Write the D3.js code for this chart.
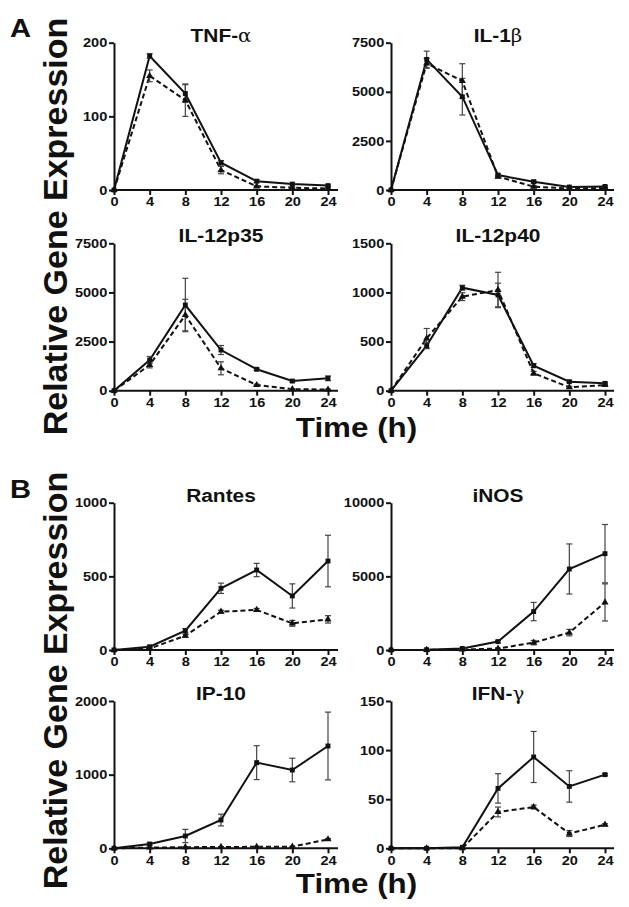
<!DOCTYPE html>
<html><head><meta charset="utf-8">
<script src="https://cdn.jsdelivr.net/npm/d3@7"></script>
<style>
body{margin:0;background:#fff}
svg{display:block}
text{font-family:"Liberation Sans",Arial,Helvetica,sans-serif;font-weight:bold;fill:#111}
</style>
</head><body>
<svg id="chart" width="629" height="907"></svg>
<script>
// ---------- data ----------
const times = [0, 4, 8, 12, 16, 20, 24];
const geneNames = ["TNF-", "IL-1", "IL-12p35", "IL-12p40", "Rantes", "iNOS", "IP-10", "IFN-"];
const geneGreek = ["α", "β", "", "", "", "", "", "γ"];
const yTickLabels = [
  [0, 100, 200],
  [0, 2500, 5000, 7500],
  [0, 2500, 5000, 7500],
  [0, 500, 1000, 1500],
  [0, 500, 1000],
  [0, 5000, 10000],
  [0, 1000, 2000],
  [0, 50, 100, 150]
];
// solid line (squares)
const solidMean = [
  [0, 182, 131, 37, 12, 8, 6],
  [0, 6650, 4750, 760, 420, 150, 180],
  [0, 1560, 4360, 2070, 1090, 490, 630],
  [0, 458, 1048, 974, 255, 92, 75],
  [0, 22, 131, 419, 543, 367, 604],
  [0, 20, 100, 570, 2610, 5500, 6540],
  [0, 58, 167, 384, 1163, 1063, 1389],
  [0, 0, 1, 61, 93, 63, 75]
];
const solidErr = [
  [0, 3, 12, 3, 2, 1, 1],
  [0, 420, 930, 60, 80, 40, 40],
  [0, 180, 1360, 230, 60, 50, 120],
  [0, 30, 25, 120, 20, 10, 10],
  [0, 5, 15, 35, 45, 82, 175],
  [0, 10, 50, 80, 620, 1700, 1980],
  [0, 15, 90, 80, 230, 160, 460],
  [0, 0, 0, 15, 26, 16, 1]
];
// dashed line (triangles)
const dashedMean = [
  [0, 155, 122, 27, 5, 3, 2],
  [0, 6450, 5550, 680, 170, 80, 100],
  [0, 1310, 3850, 1140, 290, 80, 60],
  [0, 533, 957, 1025, 177, 35, 58],
  [0, 10, 97, 260, 272, 181, 208],
  [0, 10, 30, 100, 500, 1180, 3230],
  [0, 10, 15, 18, 20, 22, 122],
  [0, 0, 0, 37, 42, 15, 24]
];
const dashedErr = [
  [0, 8, 22, 5, 1, 1, 1],
  [0, 250, 880, 60, 60, 30, 30],
  [0, 150, 800, 330, 40, 20, 20],
  [0, 100, 40, 180, 20, 10, 10],
  [0, 3, 10, 10, 10, 20, 25],
  [0, 5, 10, 30, 150, 220, 1260],
  [0, 5, 5, 5, 5, 5, 10],
  [0, 0, 0, 5, 2, 3, 1]
];
const sectionLabels = ["A", "B"];
const yAxisTitle = "Relative Gene Expression";
const xAxisTitle = "Time (h)";

// ---------- layout ----------
const cols = [{x0: 114, x1: 328, end: 338}, {x0: 391, x1: 605, end: 614}];
const rows = [{top: 42.7, zero: 190}, {top: 243.3, zero: 390.7}, {top: 502.7, zero: 650}, {top: 701, zero: 848.3}];
const STRETCH = 1.12;

const svg = d3.select("#chart");

geneNames.forEach((name, i) => {
  const c = cols[i % 2], r = rows[Math.floor(i / 2)];
  const ticks = yTickLabels[i];
  const x = d3.scaleLinear().domain([0, 24]).range([c.x0, c.x1]);
  const y = d3.scaleLinear().domain([0, d3.max(ticks)]).range([r.zero, r.top]);
  const g = svg.append("g");

  // axes
  const xa = g.append("g").attr("transform", `translate(0,${r.zero})`)
    .call(d3.axisBottom(x).tickValues(times).tickSize(5).tickPadding(2).tickSizeOuter(0));
  xa.select(".domain").remove();
  xa.append("line").attr("x1", c.x0 - 1).attr("x2", c.end).attr("stroke", "#111").attr("stroke-width", 2);
  const ya = g.append("g").attr("transform", `translate(${c.x0},0)`)
    .call(d3.axisLeft(y).tickValues(ticks).tickFormat(d3.format("d")).tickSize(5).tickPadding(1).tickSizeOuter(0));
  ya.select(".domain").attr("stroke", "#111").attr("stroke-width", 2);
  [xa, ya].forEach(a => {
    a.selectAll(".tick line").attr("stroke", "#111").attr("stroke-width", 2);
    a.selectAll(".tick text").attr("font-size", 13).attr("font-family", '"Liberation Sans",Arial,sans-serif')
      .attr("font-weight", "bold").attr("fill", "#111").attr("transform", `scale(${STRETCH},1)`);
  });

  // title
  const t = g.append("text").attr("text-anchor", "middle").attr("font-size", 19)
    .attr("transform", `translate(${(c.x0 + c.x1) / 2},${r.top - 1}) scale(1.1,1)`);
  t.append("tspan").text(name);
  if (geneGreek[i]) t.append("tspan").attr("font-family", '"DejaVu Serif",serif').attr("font-weight", "normal").attr("font-size", 18).text(geneGreek[i]);

  const series = [
    {mean: dashedMean[i], err: dashedErr[i], dash: "5,3", marker: d3.symbolTriangle, size: 22},
    {mean: solidMean[i], err: solidErr[i], dash: null, marker: d3.symbolSquare, size: 24}
  ];
  series.forEach(s => {
    const pts = times.map((t, k) => ({t, v: s.mean[k], e: s.err[k]}));
    g.append("path").datum(pts)
      .attr("d", d3.line().x(d => x(d.t)).y(d => y(d.v)))
      .attr("fill", "none").attr("stroke", "#111").attr("stroke-width", 2)
      .attr("stroke-dasharray", s.dash);
  });
  series.forEach(s => {
    const pts = times.map((t, k) => ({t, v: s.mean[k], e: s.err[k]})).filter(d => d.e > 0);
    const eb = g.append("g").attr("stroke", "#444").attr("stroke-width", 1.2);
    pts.forEach(d => {
      const xx = x(d.t), y1 = y(d.v + d.e), y2 = y(Math.max(0, d.v - d.e));
      eb.append("line").attr("x1", xx).attr("x2", xx).attr("y1", y1).attr("y2", y2);
      eb.append("line").attr("x1", xx - 3).attr("x2", xx + 3).attr("y1", y1).attr("y2", y1);
      eb.append("line").attr("x1", xx - 3).attr("x2", xx + 3).attr("y1", y2).attr("y2", y2);
    });
  });
  series.forEach(s => {
    const pts = times.map((t, k) => ({t, v: s.mean[k]}));
    g.append("g").selectAll("path").data(pts).join("path")
      .attr("d", d3.symbol().type(s.marker).size(s.size))
      .attr("transform", d => `translate(${x(d.t)},${y(d.v)})`)
      .attr("fill", "#111");
  });
});

// section labels and axis titles
const sectionY = [37, 498];
sectionLabels.forEach((lab, k) => {
  svg.append("text").attr("font-size", 26)
    .attr("transform", `translate(10,${sectionY[k]}) scale(${STRETCH},1)`).text(lab);
});
const yTitleCenter = [226.5, 680.5];
yTitleCenter.forEach(cy => {
  svg.append("text").attr("font-size", 34).attr("text-anchor", "middle")
    .attr("transform", `translate(67,${cy}) rotate(-90)`).text(yAxisTitle);
});
const xTitleY = [437, 893];
xTitleY.forEach(by => {
  svg.append("text").attr("font-size", 28).attr("text-anchor", "middle")
    .attr("transform", `translate(356.5,${by}) scale(${STRETCH},1)`).text(xAxisTitle);
});
</script>
</body></html>
